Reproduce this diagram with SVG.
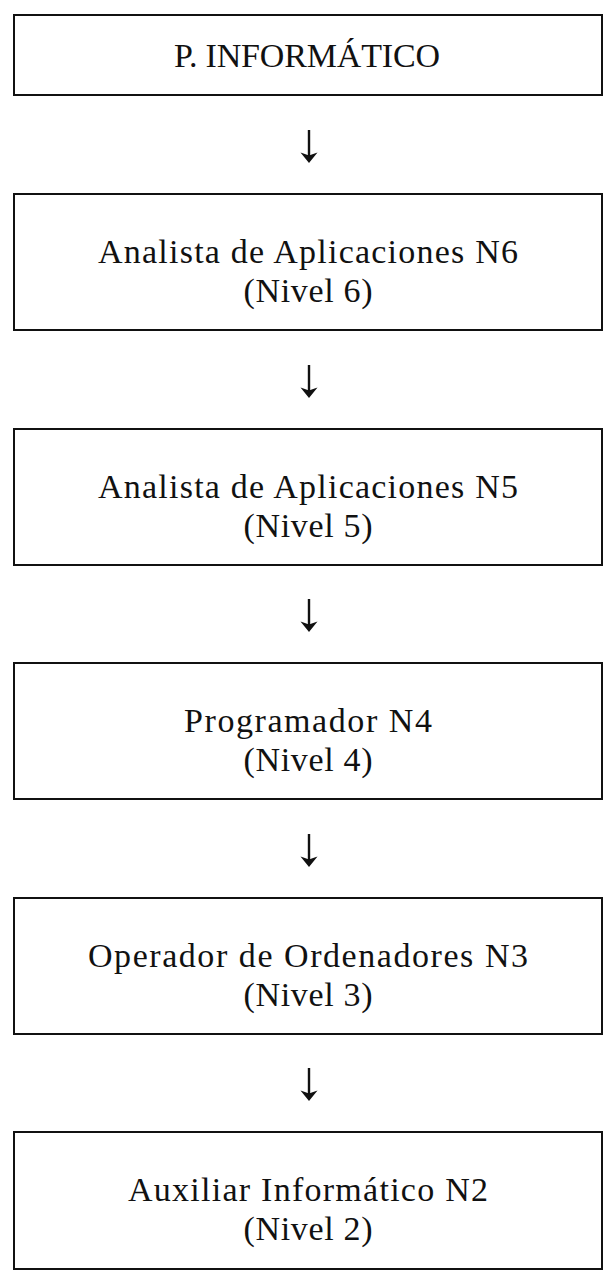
<svg xmlns="http://www.w3.org/2000/svg" width="616" height="1284" viewBox="0 0 616 1284">
<style>
.box{fill:#fff;stroke:#111;stroke-width:2}
.t{font-family:"Liberation Serif","DejaVu Serif",serif;font-size:34px;fill:#111;text-anchor:middle}
.shaft{stroke:#111;stroke-width:2.4;fill:none}
.head{fill:#111}
</style>
<defs>
<g id="arrow">
<line class="shaft" x1="0" y1="0" x2="0" y2="27"/>
<path class="head" d="M0,33 L-8.5,22.5 Q-4,24 0,25.5 Q4,24 8.5,22.5 Z"/>
</g>
</defs>
<rect width="616" height="1284" fill="#fff"/>
<g id="connectors">
<use href="#arrow" x="309" y="130"/>
<use href="#arrow" x="309" y="365"/>
<use href="#arrow" x="309" y="599"/>
<use href="#arrow" x="309" y="834"/>
<use href="#arrow" x="309" y="1068"/>
</g>
<g id="node1">
<rect class="box" x="14" y="15" width="588" height="80"/>
<text class="t" x="307" y="67" textLength="266">P. INFORMÁTICO</text>
</g>
<g id="node2">
<rect class="box" x="14" y="194" width="588" height="136"/>
<text class="t" x="308" y="263" textLength="420">Analista de Aplicaciones N6</text>
<text class="t" x="308" y="302" textLength="129">(Nivel 6)</text>
</g>
<g id="node3">
<rect class="box" x="14" y="429" width="588" height="136"/>
<text class="t" x="308" y="498" textLength="420">Analista de Aplicaciones N5</text>
<text class="t" x="308" y="537" textLength="129">(Nivel 5)</text>
</g>
<g id="node4">
<rect class="box" x="14" y="663" width="588" height="136"/>
<text class="t" x="308" y="732" textLength="248">Programador N4</text>
<text class="t" x="308" y="771" textLength="129">(Nivel 4)</text>
</g>
<g id="node5">
<rect class="box" x="14" y="898" width="588" height="136"/>
<text class="t" x="308" y="967" textLength="440">Operador de Ordenadores N3</text>
<text class="t" x="308" y="1006" textLength="129">(Nivel 3)</text>
</g>
<g id="node6">
<rect class="box" x="14" y="1132" width="588" height="137"/>
<text class="t" x="308" y="1201" textLength="360">Auxiliar Informático N2</text>
<text class="t" x="308" y="1240" textLength="129">(Nivel 2)</text>
</g>
</svg>
